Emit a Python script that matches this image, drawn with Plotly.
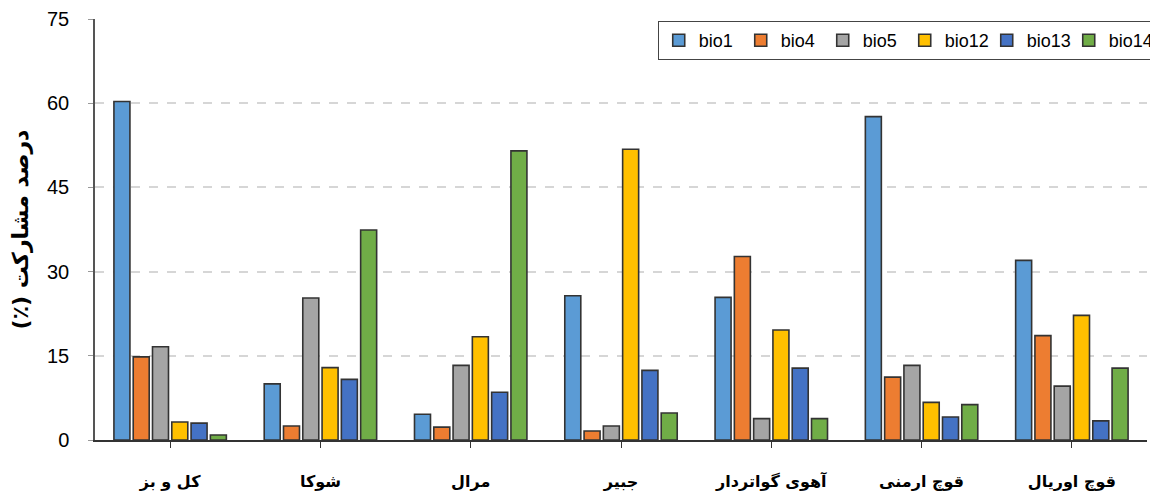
import plotly.graph_objects as go

categories = ["کل و بز", "شوکا", "مرال", "جبیر", "آهوی گواتردار", "قوچ ارمنی", "قوچ اوریال"]
bio1 = [60.3, 10.0, 4.6, 25.7, 25.4, 57.6, 32.0]
bio4 = [14.8, 2.5, 2.3, 1.6, 32.7, 11.2, 18.6]
bio5 = [16.6, 25.3, 13.3, 2.5, 3.8, 13.3, 9.6]
bio12 = [3.2, 12.9, 18.4, 51.8, 19.6, 6.7, 22.2]
bio13 = [3.0, 10.8, 8.5, 12.4, 12.8, 4.1, 3.4]
bio14 = [0.9, 37.4, 51.5, 4.8, 3.8, 6.3, 12.8]

series = [
    ("bio1", bio1, "#5B9BD5"),
    ("bio4", bio4, "#ED7D31"),
    ("bio5", bio5, "#A5A5A5"),
    ("bio12", bio12, "#FFC000"),
    ("bio13", bio13, "#4472C4"),
    ("bio14", bio14, "#70AD47"),
]
y_ticks = [0, 15, 30, 45, 60, 75]
y_title = "\u202Bدرصد مشارکت (٪)\u202C"

fig = go.Figure()
for name, vals, col in series:
    fig.add_trace(go.Bar(
        name=name, x=categories, y=vals,
        marker=dict(color=col, line=dict(color="#333333", width=1.6)),
    ))

# page body has an 8px margin: compensate so the plot lands where the reference has it
fig.update_layout(
    width=1150, height=491,
    margin=dict(l=87, r=6, t=11, b=59),
    plot_bgcolor="white", paper_bgcolor="white",
    barmode="group", bargap=0.23, bargroupgap=0.17,
    font=dict(family="Liberation Sans, Arial, DejaVu Sans", color="#000000"),
    legend=dict(
        orientation="h", x=1.0045, xanchor="right", y=0.995, yanchor="top",
        bordercolor="#444444", borderwidth=1, bgcolor="white",
        font=dict(size=18, family="Liberation Sans, Arial"),
        itemwidth=30, tracegroupgap=0,
        entrywidth=37, entrywidthmode="pixels",
    ),
    showlegend=True,
)
fig.update_xaxes(
    type="category", automargin=False,
    showline=True, linecolor="#333333", linewidth=1.5,
    ticks="outside", ticklen=6, tickcolor="#333333",
    tickfont=dict(size=16, family="DejaVu Sans", weight="bold"),
    ticklabelstandoff=20,
    showgrid=False,
)
fig.update_yaxes(
    range=[0, 75], tickvals=y_ticks, automargin=False,
    showline=True, linecolor="#555555", linewidth=1.5,
    ticks="outside", ticklen=5, tickcolor="#999999",
    tickfont=dict(size=20, family="Liberation Sans, Arial"),
    ticklabelstandoff=15,
    showgrid=True, gridcolor="#d6d6d6", griddash="dash", gridwidth=1.5,
    zeroline=False,
    title=dict(text=y_title, font=dict(size=22, family="DejaVu Sans", weight="bold"), standoff=16),
)

fig.write_html("out.html")
